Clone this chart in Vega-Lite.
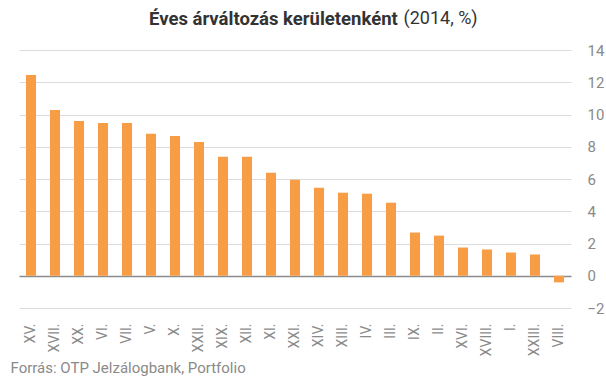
{
  "$schema": "https://vega.github.io/schema/vega-lite/v6.json",
  "width": 552,
  "height": 258,
  "autosize": {"type": "none"},
  "padding": {"left": 19, "top": 50, "right": 35, "bottom": 71},
  "background": "white",
  "config": {"view": {"stroke": null}, "font": "Roboto", "axis": {"labelOverlap": false}},
  "title": {
    "text": "Éves árváltozás kerületenként",
    "anchor": "start",
    "frame": "group",
    "dx": 130,
    "offset": -34,
    "baseline": "alphabetic",
    "fontSize": 18.5,
    "fontWeight": "bold",
    "font": "Roboto",
    "color": "#333333"
  },
  "data": {
    "values": [
      {"kerulet": "XV.", "valtozas": 12.45},
      {"kerulet": "XVII.", "valtozas": 10.28},
      {"kerulet": "XX.", "valtozas": 9.6},
      {"kerulet": "VI.", "valtozas": 9.48},
      {"kerulet": "VII.", "valtozas": 9.48},
      {"kerulet": "V.", "valtozas": 8.8},
      {"kerulet": "X.", "valtozas": 8.67},
      {"kerulet": "XXII.", "valtozas": 8.3},
      {"kerulet": "XIX.", "valtozas": 7.38},
      {"kerulet": "XII.", "valtozas": 7.38},
      {"kerulet": "XI.", "valtozas": 6.39},
      {"kerulet": "XXI.", "valtozas": 5.96},
      {"kerulet": "XIV.", "valtozas": 5.46},
      {"kerulet": "XIII.", "valtozas": 5.15},
      {"kerulet": "IV.", "valtozas": 5.09},
      {"kerulet": "III.", "valtozas": 4.53},
      {"kerulet": "IX.", "valtozas": 2.68},
      {"kerulet": "II.", "valtozas": 2.49},
      {"kerulet": "XVI.", "valtozas": 1.75},
      {"kerulet": "XVIII.", "valtozas": 1.63},
      {"kerulet": "I.", "valtozas": 1.44},
      {"kerulet": "XXIII.", "valtozas": 1.32},
      {"kerulet": "VIII.", "valtozas": -0.41}
    ]
  },
  "mark": {"type": "bar", "color": "#f79d46"},
  "encoding": {
    "x": {
      "field": "kerulet",
      "type": "nominal",
      "sort": null,
      "scale": {"paddingInner": 0.58, "paddingOuter": 0.29},
      "axis": {
        "orient": "bottom",
        "labelAngle": -90,
        "labelAlign": "right",
        "labelBaseline": "middle",
        "ticks": false,
        "domain": false,
        "labelPadding": 15,
        "labelFontSize": 14,
        "labelColor": "#8a8a8a",
        "labelFont": "Roboto",
        "title": "Forrás: OTP Jelzálogbank, Portfolio",
        "titleFont": "Roboto",
        "titleFontSize": 15,
        "titleFontWeight": "normal",
        "titleColor": "#8a8a8a",
        "titleAnchor": "start",
        "titleAlign": "left",
        "titleBaseline": "alphabetic",
        "titleX": -9,
        "titleY": 64
      }
    },
    "y": {
      "field": "valtozas",
      "type": "quantitative",
      "scale": {"domain": [-2, 14], "nice": false, "zero": false},
      "axis": {
        "orient": "right",
        "values": [-2, 0, 2, 4, 6, 8, 10, 12, 14],
        "labelOverlap": false,
        "labelBound": false,
        "grid": true,
        "gridColor": {"condition": {"test": "datum.value === 0", "value": "#8c8c8c"}, "value": "#dcdcdc"},
        "gridWidth": {"condition": {"test": "datum.value === 0", "value": 1.5}, "value": 1},
        "ticks": false,
        "domain": false,
        "labelPadding": 16,
        "labelAlign": "left",
        "labelFontSize": 15,
        "labelColor": "#8a8a8a",
        "labelFont": "Roboto",
        "title": "(2014, %)",
        "titleAngle": 0,
        "titleFont": "Roboto",
        "titleFontSize": 18,
        "titleFontWeight": "normal",
        "titleColor": "#333333",
        "titleAlign": "left",
        "titleBaseline": "alphabetic",
        "titleX": -168,
        "titleY": -27
      }
    }
  }
}
